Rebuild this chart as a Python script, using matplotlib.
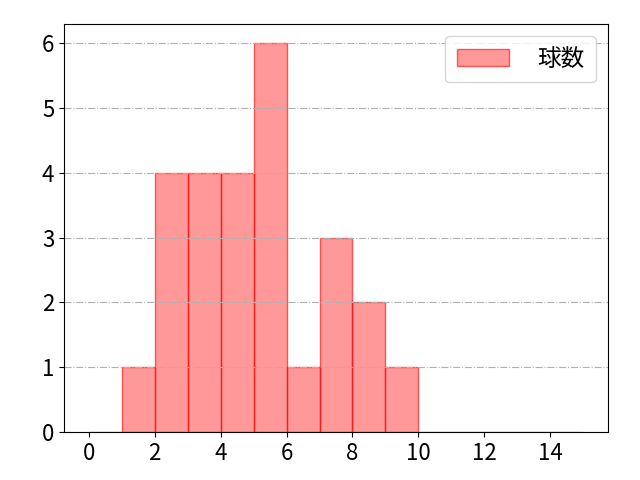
import matplotlib
matplotlib.use("Agg")
import matplotlib.pyplot as plt
import numpy as np

plt.rcParams['font.family'] = ['Noto Sans CJK JP', 'DejaVu Sans']
plt.rcParams['font.size'] = 16

# pitch counts per bin (bins of width 1 from 0 to 15)
bin_edges = list(range(0, 16))
counts = [0, 1, 4, 4, 4, 6, 1, 3, 2, 1, 0, 0, 0, 0, 0]

fig, ax = plt.subplots(figsize=(6.4, 4.8), dpi=100)
ax.hist(bin_edges[:-1], bins=bin_edges, weights=counts,
        facecolor=(1, 0, 0, 0.4), edgecolor=(1, 0, 0, 0.6), lw=1, label="球数")
ax.set_xticks(range(0, 16, 2))
ax.set_xlim(-0.75, 15.75)
ax.grid(axis="y", linestyle="-.", color="#b0b0b0")
ax.legend(loc="upper right", fontsize=17, handlelength=2.2, handletextpad=1.2,
          borderpad=0.5)
fig.subplots_adjust(left=0.1, right=0.95, top=0.95, bottom=0.1)
fig.savefig("out.png")
